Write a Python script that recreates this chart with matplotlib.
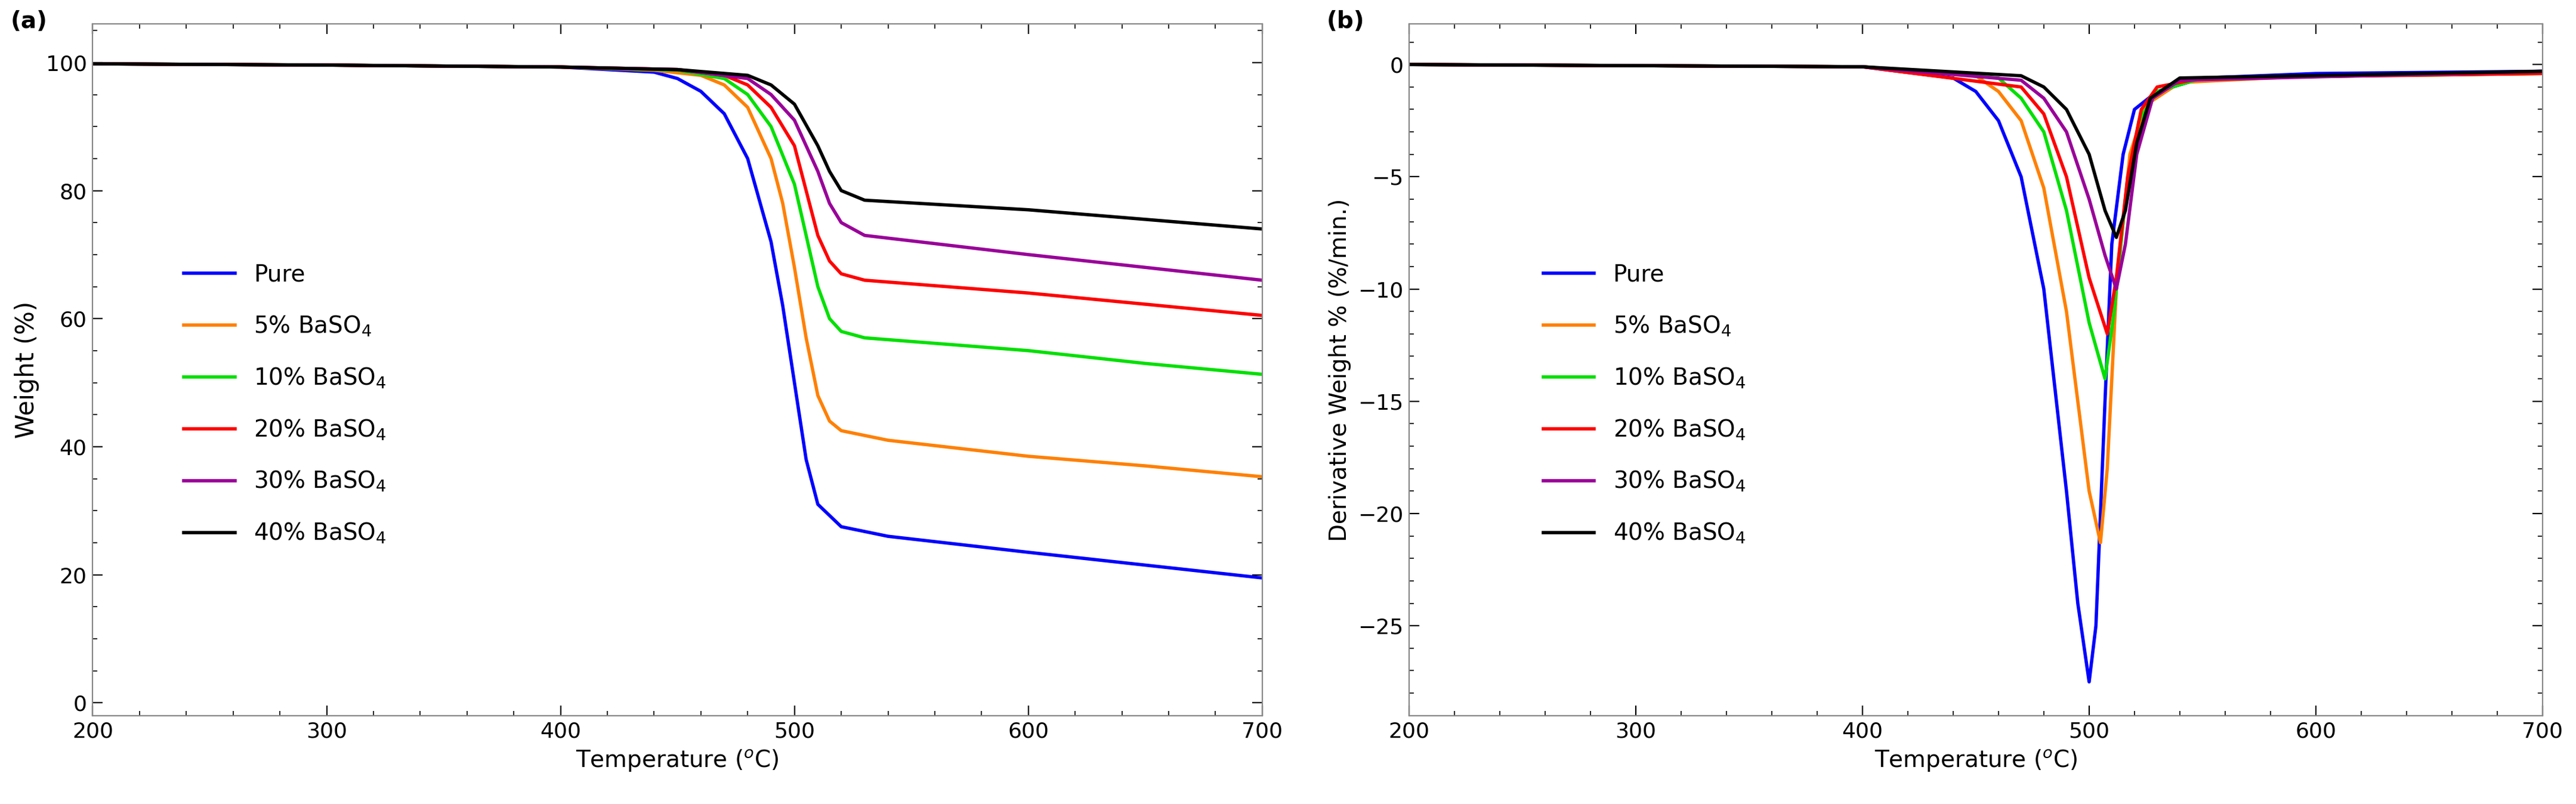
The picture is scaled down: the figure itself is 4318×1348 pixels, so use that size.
import matplotlib
matplotlib.use("Agg")
import matplotlib.pyplot as plt

labels = ["Pure", "5% BaSO$_4$", "10% BaSO$_4$", "20% BaSO$_4$", "30% BaSO$_4$", "40% BaSO$_4$"]
colors = ["#0000ff", "#ff8000", "#00e000", "#ff0000", "#990099", "#000000"]

# TGA weight (%) vs temperature
tga_T = [
    [200, 300, 400, 440, 450, 460, 470, 480, 490, 495, 500, 505, 510, 520, 540, 600, 650, 700],
    [200, 300, 400, 440, 460, 470, 480, 490, 495, 500, 505, 510, 515, 520, 540, 600, 650, 700],
    [200, 300, 400, 450, 470, 480, 490, 500, 505, 510, 515, 520, 530, 600, 650, 700],
    [200, 300, 400, 450, 470, 480, 490, 500, 505, 510, 515, 520, 530, 600, 700],
    [200, 300, 400, 450, 480, 490, 500, 510, 515, 520, 530, 600, 700],
    [200, 300, 400, 450, 480, 490, 500, 510, 515, 520, 530, 600, 700],
]
tga_W = [
    [99.8, 99.6, 99.3, 98.5, 97.5, 95.5, 92, 85, 72, 62, 50, 38, 31, 27.5, 26, 23.5, 21.5, 19.5],
    [99.8, 99.6, 99.3, 98.8, 98, 96.5, 93, 85, 78, 68, 57, 48, 44, 42.5, 41, 38.5, 37, 35.3],
    [99.8, 99.6, 99.3, 98.8, 97.5, 95, 90, 81, 73, 65, 60, 58, 57, 55, 53, 51.3],
    [99.8, 99.6, 99.3, 98.9, 98, 96.5, 93, 87, 80, 73, 69, 67, 66, 64, 60.5],
    [99.8, 99.6, 99.3, 98.9, 97.5, 95, 91, 83, 78, 75, 73, 70, 66],
    [99.8, 99.6, 99.3, 98.9, 98, 96.5, 93.5, 87, 83, 80, 78.5, 77, 74],
]

# DTG derivative weight (%/min) vs temperature
dtg_T = [
    [200, 400, 440, 450, 460, 470, 480, 490, 495, 500, 503, 507, 510, 515, 520, 530, 550, 600, 700],
    [200, 400, 450, 460, 470, 480, 490, 500, 505, 508, 512, 518, 525, 540, 600, 700],
    [200, 400, 460, 470, 480, 490, 500, 507, 511, 516, 522, 530, 550, 700],
    [200, 400, 470, 480, 490, 500, 508, 512, 517, 523, 530, 550, 700],
    [200, 400, 470, 480, 490, 500, 507, 512, 516, 521, 528, 540, 700],
    [200, 400, 470, 480, 490, 500, 507, 512, 516, 521, 527, 540, 700],
]
dtg_D = [
    [0, -0.1, -0.6, -1.2, -2.5, -5, -10, -19, -24, -27.5, -25, -15, -8, -4, -2, -1.2, -0.6, -0.4, -0.3],
    [0, -0.1, -0.5, -1.2, -2.5, -5.5, -11, -19, -21.3, -18, -10, -4, -1.8, -0.8, -0.5, -0.4],
    [0, -0.1, -0.6, -1.5, -3, -6.5, -11.5, -14, -11, -6, -2.5, -1.2, -0.6, -0.4],
    [0, -0.1, -1, -2.2, -5, -9.5, -12, -9.5, -5, -2, -1, -0.6, -0.4],
    [0, -0.1, -0.7, -1.5, -3, -6, -8.5, -10, -8, -4, -1.5, -0.7, -0.3],
    [0, -0.1, -0.5, -1, -2, -4, -6.5, -7.7, -6.5, -3.5, -1.5, -0.6, -0.3],
]

fig = plt.figure(figsize=(21.59, 6.74), dpi=200)
ax1 = fig.add_axes([0.036, 0.11, 0.454, 0.86])
ax2 = fig.add_axes([0.547, 0.11, 0.440, 0.86])

def style(ax):
    ax.tick_params(direction="in", top=True, right=True, labelsize=13, length=6)
    ax.minorticks_on()
    ax.tick_params(which="minor", direction="in", top=True, right=True, length=3)
    for s in ax.spines.values():
        s.set_color("#888888")
    ax.set_xlim(200, 700)
    ax.set_xticks([200, 300, 400, 500, 600, 700])
    ax.set_xlabel("Temperature ($^o$C)", fontsize=14)

for T, W, lab, c in zip(tga_T, tga_W, labels, colors):
    ax1.plot(T, W, color=c, lw=2, label=lab)
style(ax1)
ax1.set_ylim(-2, 106)
ax1.set_yticks([0, 20, 40, 60, 80, 100])
ax1.set_ylabel("Weight (%)", fontsize=15)
ax1.legend(loc="center left", bbox_to_anchor=(0.06, 0.45), frameon=False, fontsize=14,
           handlelength=2.2, labelspacing=1.2)
fig.text(0.004, 0.965, "(a)", fontsize=14, fontweight="bold")

for T, D, lab, c in zip(dtg_T, dtg_D, labels, colors):
    ax2.plot(T, D, color=c, lw=2, label=lab)
style(ax2)
ax2.set_ylim(-29, 1.8)
ax2.set_yticks([0, -5, -10, -15, -20, -25])
ax2.set_ylabel("Derivative Weight % (%/min.)", fontsize=14)
ax2.legend(loc="center left", bbox_to_anchor=(0.1, 0.45), frameon=False, fontsize=14,
           handlelength=2.2, labelspacing=1.2)
fig.text(0.515, 0.965, "(b)", fontsize=14, fontweight="bold")

fig.savefig("out.png", dpi=200)
